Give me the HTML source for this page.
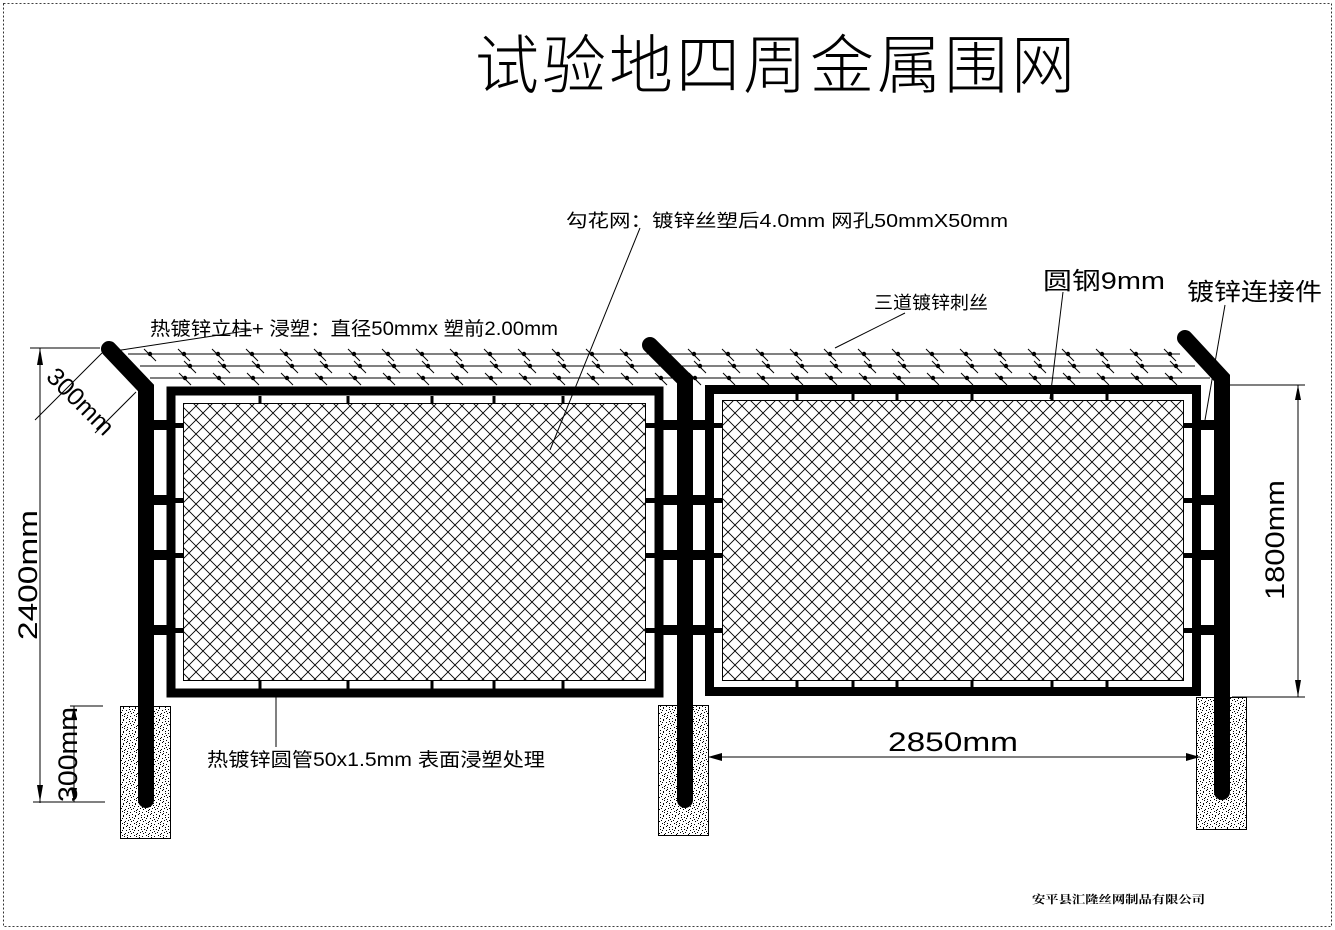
<!DOCTYPE html>
<html><head><meta charset="utf-8"><style>
html,body{margin:0;padding:0;background:#fff;}
svg{display:block;}
text{font-family:"Liberation Sans","Noto Sans CJK SC",sans-serif;fill:#000;}
</style></head><body>
<svg id="s" width="1335" height="930" viewBox="0 0 1335 930" xmlns="http://www.w3.org/2000/svg">
<defs>
<pattern id="mesh" width="14" height="14" patternUnits="userSpaceOnUse">
<path d="M0 0L14 14M14 0L0 14" stroke="#000" stroke-width="0.9"/>
</pattern>
<pattern id="dots" width="12" height="12" patternUnits="userSpaceOnUse">
<rect width="12" height="12" fill="#fff"/>
<g fill="#000">
<rect x="0" y="1" width="1" height="1"/><rect x="3" y="0" width="1" height="1"/><rect x="6" y="2" width="1" height="1"/><rect x="9" y="1" width="1" height="1"/>
<rect x="1" y="4" width="1" height="1"/><rect x="5" y="5" width="1" height="1"/><rect x="8" y="4" width="1" height="1"/><rect x="11" y="5" width="1" height="1"/>
<rect x="2" y="7" width="1" height="1"/><rect x="4" y="8" width="1" height="1"/><rect x="7" y="7" width="1" height="1"/><rect x="10" y="8" width="1" height="1"/>
<rect x="0" y="10" width="1" height="1"/><rect x="3" y="11" width="1" height="1"/><rect x="6" y="10" width="1" height="1"/><rect x="9" y="11" width="1" height="1"/>
<rect x="2" y="2" width="1" height="1"/><rect x="7" y="9" width="1" height="1"/><rect x="10" y="3" width="1" height="1"/><rect x="4" y="6" width="1" height="1"/>
</g>
</pattern>
</defs>
<rect x="3.5" y="3.5" width="1328" height="923" fill="none" stroke="#000" stroke-dasharray="2,2" stroke-width="0.8"/>

<text x="475" y="88" font-size="64" style="font-family:'Noto Sans CJK SC',sans-serif;font-weight:300" letter-spacing="3">试验地四周金属围网</text>

<rect x="120.5" y="706.5" width="50" height="132" fill="url(#dots)" stroke="#000"/>
<rect x="658.5" y="705.5" width="50" height="130" fill="url(#dots)" stroke="#000"/>
<rect x="1196.5" y="697.5" width="50" height="132" fill="url(#dots)" stroke="#000"/>

<g stroke="#000" stroke-width="1">
<line x1="128" y1="354" x2="1180" y2="354"/>
<line x1="140" y1="366" x2="1195" y2="366"/>
<line x1="150" y1="378" x2="1210" y2="378"/>
</g>
<g id="barbs"></g>

<rect x="171" y="391" width="488" height="302" fill="none" stroke="#000" stroke-width="9"/>
<rect x="183.5" y="403.5" width="462" height="277" fill="url(#mesh)" stroke="#000"/>
<rect x="709.5" y="389.5" width="487" height="302" fill="none" stroke="#000" stroke-width="9"/>
<rect x="722.5" y="400.5" width="461" height="280" fill="url(#mesh)" stroke="#000"/>

<g stroke="#000" stroke-width="3" id="ticks"></g>

<g stroke="#000" stroke-linecap="round" fill="none" stroke-width="16">
<polyline points="146,800 146,388 109,349"/>
<polyline points="685,800 685,380 650,345"/>
<polyline points="1222,792 1222,378 1185,338"/>
</g>

<g fill="#000" id="conn"></g>

<g stroke="#000" stroke-width="1" fill="none">
<line x1="30" y1="348" x2="100" y2="348"/>
<line x1="40" y1="348" x2="40" y2="803"/>
<line x1="33" y1="802" x2="105" y2="802"/>
<line x1="70" y1="706" x2="103" y2="706"/>
<line x1="74" y1="706" x2="74" y2="802"/>
<line x1="1230" y1="385" x2="1305" y2="385"/>
<line x1="1232" y1="697" x2="1305" y2="697"/>
<line x1="1298" y1="385" x2="1298" y2="697"/>
<line x1="708" y1="757" x2="1200" y2="757"/>
<line x1="102" y1="353" x2="35" y2="420"/>
<line x1="136" y1="392" x2="95" y2="433"/>
<line x1="640" y1="228" x2="550" y2="450"/>
<line x1="1063" y1="292" x2="1050" y2="399"/>
<line x1="1225" y1="305" x2="1205" y2="420"/>
<line x1="905" y1="313" x2="835" y2="348"/>
<line x1="252" y1="330" x2="108" y2="352"/>
<line x1="276" y1="697" x2="276" y2="747"/>
</g>
<g fill="#000">
<polygon points="37,785 43,785 40,802"/>
<polygon points="37,365 43,365 40,348"/>
<polygon points="71,720 77,720 74,706"/>
<polygon points="71,788 77,788 74,802"/>
<polygon points="1295,400 1301,400 1298,385"/>
<polygon points="1295,680 1301,680 1298,697"/>
<polygon points="708,757 722,753 722,761"/>
<polygon points="1200,757 1186,753 1186,761"/>
</g>

<text x="566" y="227" font-size="18" textLength="442" lengthAdjust="spacingAndGlyphs">勾花网：镀锌丝塑后4.0mm  网孔50mmX50mm</text>
<text x="1043" y="289" font-size="24" textLength="122" lengthAdjust="spacingAndGlyphs">圆钢9mm</text>
<text x="1187" y="300" font-size="24" textLength="135" lengthAdjust="spacingAndGlyphs">镀锌连接件</text>
<text x="874" y="309" font-size="18" textLength="114" lengthAdjust="spacingAndGlyphs">三道镀锌刺丝</text>
<text x="150" y="335" font-size="19" textLength="408" lengthAdjust="spacingAndGlyphs">热镀锌立柱+ 浸塑：直径50mmx 塑前2.00mm</text>
<text x="207" y="766" font-size="19" textLength="338" lengthAdjust="spacingAndGlyphs">热镀锌圆管50x1.5mm  表面浸塑处理</text>
<text x="888" y="751" font-size="27" textLength="130" lengthAdjust="spacingAndGlyphs">2850mm</text>
<text x="1032" y="903" font-size="11" style="font-family:'Noto Serif CJK SC',serif;font-weight:bold" textLength="173" lengthAdjust="spacingAndGlyphs">安平县汇隆丝网制品有限公司</text>
<text font-size="27" transform="translate(37,640) rotate(-90)" textLength="130" lengthAdjust="spacingAndGlyphs">2400mm</text>
<text font-size="27" transform="translate(77,802) rotate(-90)" textLength="95" lengthAdjust="spacingAndGlyphs">300mm</text>
<text font-size="27" transform="translate(1284,600) rotate(-90)" textLength="120" lengthAdjust="spacingAndGlyphs">1800mm</text>
<text font-size="25" transform="translate(45,378) rotate(45)">300mm</text>
</svg>
<script>
var NS="http://www.w3.org/2000/svg",s=document.getElementById('s');
function el(t,a,p){var e=document.createElementNS(NS,t);for(var k in a)e.setAttribute(k,a[k]);(p||s).appendChild(e);return e;}
var b=document.getElementById('barbs');
[[354,150,1175,0],[366,160,1190,30],[378,170,1205,15]].forEach(function(r){
 for(var x=r[1]+r[3];x<r[2];x+=34){
  el('line',{x1:x-6,y1:r[0]-5,x2:x+6,y2:r[0]+7,stroke:'#000','stroke-width':1},b);
  el('circle',{cx:x,cy:r[0],r:2.2,fill:'#000'},b);
 }});
var t=document.getElementById('ticks');
[260,348,432,494,563].forEach(function(x){el('line',{x1:x,y1:396,x2:x,y2:403},t);el('line',{x1:x,y1:681,x2:x,y2:689},t);});
[797,853,897,972,1052,1107].forEach(function(x){el('line',{x1:x,y1:394,x2:x,y2:400},t);el('line',{x1:x,y1:681,x2:x,y2:687},t);});
var c=document.getElementById('conn');
[425,500,555,630].forEach(function(y){
 el('rect',{x:146,y:y-5,width:22,height:10},c);el('rect',{x:175,y:y-2,width:9,height:5},c);
 el('rect',{x:663,y:y-5,width:22,height:10},c);el('rect',{x:645,y:y-2,width:10,height:5},c);
 el('rect',{x:685,y:y-5,width:22,height:10},c);el('rect',{x:714,y:y-2,width:9,height:5},c);
 el('rect',{x:1200,y:y-5,width:22,height:10},c);el('rect',{x:1183,y:y-2,width:10,height:5},c);
});
</script>
</body></html>
